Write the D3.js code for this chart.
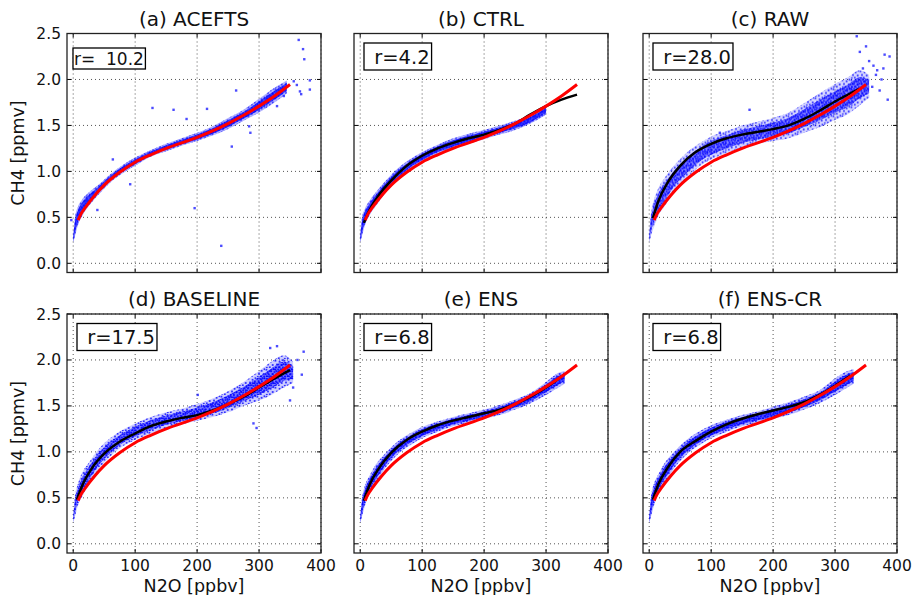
<!DOCTYPE html>
<html>
<head>
<meta charset="utf-8">
<script src="https://cdn.jsdelivr.net/npm/d3@7"></script>
<style>
  html, body { margin: 0; padding: 0; background: #fff; }
  svg { display: block; }
  text { font-family: "DejaVu Sans", sans-serif; fill: #111; }
</style>
</head>
<body>
<svg id="chart" width="912" height="595"></svg>
<script>
// ---------------- DATA ----------------
const panelTitles = ["(a) ACEFTS", "(b) CTRL", "(c) RAW", "(d) BASELINE", "(e) ENS", "(f) ENS-CR"];
const rLabels = ["r=  10.2", " r=4.2", " r=28.0", " r=17.5", " r=6.8", " r=6.8"];

const xTicks = [0, 100, 200, 300, 400];
const yTicks = [0.0, 0.5, 1.0, 1.5, 2.0, 2.5];
const yTickLabels = ["0.0", "0.5", "1.0", "1.5", "2.0", "2.5"];
const xLabel = "N2O [ppbv]";
const yLabel = "CH4 [ppmv]";

// Reference (ACE-FTS) fit: red curve, same in every panel
const redX = [8, 12, 20, 35, 50, 75, 100, 125, 150, 175, 200, 225, 250, 275, 300, 325, 350];
const redY = [0.47, 0.53, 0.61, 0.74, 0.85, 0.99, 1.10, 1.18, 1.25, 1.31, 1.37, 1.44, 1.52, 1.61, 1.71, 1.82, 1.945];

// Model fits: black curves (none for ACEFTS)
const ctrlX = [6, 15, 30, 50, 75, 100, 125, 150, 175, 200, 225, 250, 275, 300, 325, 350];
const ctrlY = [0.44, 0.58, 0.74, 0.90, 1.06, 1.17, 1.25, 1.31, 1.36, 1.40, 1.45, 1.52, 1.62, 1.71, 1.78, 1.835];
const rawX  = [6, 15, 30, 50, 75, 100, 125, 150, 175, 200, 225, 250, 275, 300, 325, 340];
const rawY  = [0.49, 0.68, 0.88, 1.06, 1.21, 1.30, 1.36, 1.40, 1.43, 1.46, 1.50, 1.57, 1.66, 1.76, 1.85, 1.90];
const baseX = [6, 15, 30, 50, 75, 100, 125, 150, 175, 200, 225, 250, 275, 300, 325, 350];
const baseY = [0.48, 0.64, 0.82, 0.98, 1.11, 1.20, 1.28, 1.33, 1.37, 1.40, 1.45, 1.52, 1.60, 1.70, 1.80, 1.89];
const ensX  = [6, 15, 30, 50, 75, 100, 125, 150, 175, 200, 225, 250, 275, 300, 325];
const ensY  = [0.47, 0.64, 0.82, 0.99, 1.13, 1.22, 1.29, 1.34, 1.38, 1.42, 1.46, 1.52, 1.60, 1.70, 1.82];
const enscrX = [6, 15, 30, 50, 75, 100, 125, 150, 175, 200, 225, 250, 275, 300, 325];
const enscrY = [0.48, 0.65, 0.83, 1.00, 1.12, 1.22, 1.30, 1.36, 1.41, 1.45, 1.49, 1.54, 1.62, 1.72, 1.83];

// Scatter cloud envelopes (blue points)
const aCloudX  = [0, 3, 8, 15, 25, 40, 60, 80, 100, 125, 150, 175, 200, 225, 250, 275, 300, 325, 345];
const aCloudLo = [0.22, 0.30, 0.42, 0.52, 0.62, 0.74, 0.88, 0.98, 1.06, 1.16, 1.22, 1.28, 1.33, 1.39, 1.46, 1.55, 1.64, 1.75, 1.85];
const aCloudHi = [0.30, 0.50, 0.62, 0.70, 0.77, 0.85, 0.97, 1.07, 1.15, 1.23, 1.30, 1.36, 1.42, 1.49, 1.58, 1.67, 1.79, 1.91, 1.99];

const bCloudX  = [0, 3, 8, 15, 25, 40, 60, 80, 100, 125, 150, 175, 200, 225, 250, 275, 300];
const bCloudLo = [0.22, 0.30, 0.42, 0.52, 0.62, 0.76, 0.90, 1.02, 1.10, 1.19, 1.25, 1.30, 1.35, 1.40, 1.45, 1.52, 1.62];
const bCloudHi = [0.30, 0.50, 0.60, 0.68, 0.77, 0.89, 1.03, 1.13, 1.21, 1.29, 1.36, 1.41, 1.45, 1.50, 1.55, 1.61, 1.71];

const cCloudX  = [0, 3, 8, 15, 25, 40, 60, 80, 100, 125, 150, 175, 200, 225, 250, 275, 300, 320, 340, 355];
const cCloudLo = [0.22, 0.30, 0.40, 0.52, 0.62, 0.78, 0.92, 1.05, 1.13, 1.20, 1.26, 1.30, 1.33, 1.36, 1.42, 1.48, 1.56, 1.62, 1.72, 1.80];
const cCloudHi = [0.32, 0.55, 0.70, 0.82, 0.93, 1.06, 1.20, 1.30, 1.38, 1.44, 1.50, 1.54, 1.58, 1.64, 1.74, 1.85, 1.95, 2.02, 2.10, 2.05];

const dCloudX  = [0, 3, 8, 15, 25, 40, 60, 80, 100, 125, 150, 175, 200, 225, 250, 275, 300, 320, 340, 355];
const dCloudLo = [0.22, 0.30, 0.42, 0.52, 0.64, 0.80, 0.95, 1.06, 1.13, 1.20, 1.26, 1.30, 1.34, 1.38, 1.43, 1.50, 1.56, 1.62, 1.70, 1.75];
const dCloudHi = [0.32, 0.52, 0.66, 0.78, 0.88, 1.02, 1.15, 1.24, 1.31, 1.38, 1.43, 1.47, 1.52, 1.58, 1.66, 1.76, 1.88, 1.98, 2.05, 1.98];

const eCloudX  = [0, 3, 8, 15, 25, 40, 60, 80, 100, 125, 150, 175, 200, 225, 250, 275, 300, 320, 330];
const eCloudLo = [0.22, 0.30, 0.42, 0.55, 0.66, 0.82, 0.97, 1.07, 1.15, 1.22, 1.28, 1.32, 1.36, 1.40, 1.46, 1.53, 1.62, 1.70, 1.74];
const eCloudHi = [0.30, 0.50, 0.64, 0.74, 0.86, 0.98, 1.11, 1.20, 1.27, 1.33, 1.38, 1.42, 1.46, 1.51, 1.57, 1.64, 1.76, 1.86, 1.88];

const fCloudX  = [0, 3, 8, 15, 25, 40, 60, 80, 100, 125, 150, 175, 200, 225, 250, 275, 300, 320, 330];
const fCloudLo = [0.22, 0.30, 0.42, 0.55, 0.66, 0.82, 0.97, 1.07, 1.15, 1.22, 1.28, 1.32, 1.36, 1.40, 1.46, 1.53, 1.62, 1.70, 1.74];
const fCloudHi = [0.30, 0.52, 0.66, 0.76, 0.88, 1.00, 1.13, 1.22, 1.29, 1.35, 1.40, 1.44, 1.49, 1.54, 1.60, 1.67, 1.80, 1.88, 1.90];

// Isolated scatter points outside the clouds
const aOutX = [-3, 39, 64, 92, 128, 162, 183, 196, 216, 239, 256, 263, 284, 286, 329, 340, 356, 361, 364, 366, 368, 371, 373, 382, 382];
const aOutY = [0.47, 0.58, 1.13, 0.86, 1.69, 1.67, 1.57, 0.60, 1.68, 0.19, 1.27, 1.88, 1.49, 1.42, 1.71, 1.82, 1.98, 1.94, 2.43, 1.87, 1.84, 2.33, 2.22, 1.99, 1.89];
const bOutX = [];
const bOutY = [];
const cOutX = [114, 162, 335, 340, 350, 355, 362, 368, 375, 380, 385, 388, 345, 360, 372, 366, 378];
const cOutY = [1.42, 1.67, 2.47, 2.30, 2.36, 2.20, 2.15, 2.10, 2.00, 2.27, 1.78, 2.25, 2.12, 1.92, 1.88, 2.05, 2.12];
const dOutX = [201, 291, 296, 318, 329, 350, 355, 362, 369, 372];
const dOutY = [1.62, 1.31, 1.26, 2.13, 2.15, 1.56, 1.70, 2.00, 1.84, 2.09];
const eOutX = [];
const eOutY = [];
const fOutX = [];
const fOutY = [];

// ---------------- LAYOUT ----------------
const svg = d3.select("#chart");
const colLeft = [67, 354, 643];
const rowTop = [33.5, 314];
const pw = 254, ph = 239;

const x = d3.scaleLinear().domain([-10, 400]).range([0, pw]);
const y = d3.scaleLinear().domain([-0.1, 2.5]).range([ph, 0]);

const zip = (a, b) => a.map((v, i) => [v, b[i]]);
const panels = [
  { cloud: [aCloudX, aCloudLo, aCloudHi], out: [aOutX, aOutY], black: null, core: 0.62, outer: 0.3 },
  { cloud: [bCloudX, bCloudLo, bCloudHi], out: [bOutX, bOutY], black: [ctrlX, ctrlY], core: 0.62, outer: 0.3 },
  { cloud: [cCloudX, cCloudLo, cCloudHi], out: [cOutX, cOutY], black: [rawX, rawY], core: 0.38, outer: 0.17 },
  { cloud: [dCloudX, dCloudLo, dCloudHi], out: [dOutX, dOutY], black: [baseX, baseY], core: 0.42, outer: 0.2 },
  { cloud: [eCloudX, eCloudLo, eCloudHi], out: [eOutX, eOutY], black: [ensX, ensY], core: 0.58, outer: 0.28 },
  { cloud: [fCloudX, fCloudLo, fCloudHi], out: [fOutX, fOutY], black: [enscrX, enscrY], core: 0.58, outer: 0.28 }
];

// irregular dot textures to mimic scatter markers
const defs = svg.append("defs");
function makePattern(id, size, dots, op) {
  const p = defs.append("pattern").attr("id", id)
    .attr("patternUnits", "userSpaceOnUse").attr("width", size).attr("height", size);
  dots.forEach(d => p.append("rect").attr("x", d[0]).attr("y", d[1])
    .attr("width", 1.8).attr("height", 1.8).attr("fill", "#0000ff").attr("fill-opacity", op));
}
makePattern("dense", 7, [[0.3,0.4],[3.6,1.1],[1.7,3.2],[5.0,3.6],[2.8,5.3],[5.6,0.2],[0.2,5.6],[4.1,5.9]], 0.8);
makePattern("sparse", 9, [[0.5,0.8],[4.7,1.9],[2.1,4.6],[6.8,5.1],[3.9,7.4],[7.6,0.3],[0.9,7.9]], 0.75);

const lineGen = d3.line().x(d => x(d[0])).y(d => y(d[1])).curve(d3.curveMonotoneX);

panels.forEach((p, i) => {
  const col = i % 3, row = Math.floor(i / 3);
  const g = svg.append("g").attr("transform", `translate(${colLeft[col]},${rowTop[row]})`);
  const clipId = "clip" + i;
  defs.append("clipPath").attr("id", clipId).append("rect").attr("width", pw).attr("height", ph);

  // grid
  const grid = g.append("g").attr("stroke", "#000").attr("stroke-width", 0.8)
    .attr("stroke-dasharray", "1,3").attr("stroke-opacity", 0.85);
  xTicks.forEach(t => grid.append("line").attr("x1", x(t)).attr("x2", x(t)).attr("y1", 0).attr("y2", ph));
  yTicks.forEach(t => grid.append("line").attr("y1", y(t)).attr("y2", y(t)).attr("x1", 0).attr("x2", pw));

  const plot = g.append("g").attr("clip-path", `url(#${clipId})`);

  // scatter cloud
  const [cx, lo, hi] = p.cloud;
  const cloudData = cx.map((v, k) => ({ x: v, lo: lo[k], hi: hi[k] }));
  const area = d3.area().x(d => x(d.x)).y0(d => y(d.lo)).y1(d => y(d.hi)).curve(d3.curveMonotoneX);
  const core = d3.area().x(d => x(d.x))
    .y0(d => y(d.lo + 0.2 * (d.hi - d.lo))).y1(d => y(d.hi - 0.2 * (d.hi - d.lo)))
    .curve(d3.curveMonotoneX);
  plot.append("path").datum(cloudData).attr("d", area).attr("fill", "url(#sparse)");
  plot.append("path").datum(cloudData).attr("d", area).attr("fill", "#0000ff").attr("fill-opacity", p.outer);
  plot.append("path").datum(cloudData).attr("d", core).attr("fill", "url(#dense)");
  plot.append("path").datum(cloudData).attr("d", core).attr("fill", "#0000ff").attr("fill-opacity", p.core);

  // outlier points
  const outPts = zip(p.out[0], p.out[1]);
  plot.selectAll("rect.pt").data(outPts).enter().append("rect").attr("class", "pt")
    .attr("x", d => x(d[0]) - 1.2).attr("y", d => y(d[1]) - 1.2)
    .attr("width", 2.4).attr("height", 2.4).attr("fill", "#0000ff").attr("fill-opacity", 0.7);

  // black model fit
  if (p.black) {
    plot.append("path").datum(zip(p.black[0], p.black[1])).attr("d", lineGen)
      .attr("fill", "none").attr("stroke", "#000").attr("stroke-width", 2.5);
  }
  // red reference fit
  plot.append("path").datum(zip(redX, redY)).attr("d", lineGen)
    .attr("fill", "none").attr("stroke", "#ff0000").attr("stroke-width", 3);

  // inward ticks on all sides
  const tk = g.append("g").attr("stroke", "#000").attr("stroke-width", 1);
  xTicks.forEach(t => {
    tk.append("line").attr("x1", x(t)).attr("x2", x(t)).attr("y1", ph).attr("y2", ph - 4);
    tk.append("line").attr("x1", x(t)).attr("x2", x(t)).attr("y1", 0).attr("y2", 4);
  });
  yTicks.forEach(t => {
    tk.append("line").attr("y1", y(t)).attr("y2", y(t)).attr("x1", 0).attr("x2", 4);
    tk.append("line").attr("y1", y(t)).attr("y2", y(t)).attr("x1", pw).attr("x2", pw - 4);
  });

  // frame
  g.append("rect").attr("width", pw).attr("height", ph).attr("fill", "none")
    .attr("stroke", "#222").attr("stroke-width", 1.3);

  // tick labels
  if (row === 1) {
    g.append("g").selectAll("text").data(xTicks).enter().append("text")
      .attr("x", d => x(d)).attr("y", ph + 17.5).attr("text-anchor", "middle")
      .attr("font-size", 15.5).text(d => d);
  }
  if (col === 0) {
    g.append("g").selectAll("text").data(yTicks).enter().append("text")
      .attr("x", -6).attr("y", d => y(d) + 5.5).attr("text-anchor", "end")
      .attr("font-size", 15.5).text((d, k) => yTickLabels[k]);
    g.append("text").attr("transform", `translate(-43,${ph / 2}) rotate(-90)`)
      .attr("text-anchor", "middle").attr("font-size", 17.5).text(yLabel);
  }
  if (row === 1) {
    g.append("text").attr("x", pw / 2).attr("y", ph + 39).attr("text-anchor", "middle")
      .attr("font-size", 17.5).text(xLabel);
  }

  // title
  g.append("text").attr("x", pw / 2).attr("y", -8).attr("text-anchor", "middle")
    .attr("font-size", 20).text(panelTitles[i]);

  // r label box
  const small = i === 0;
  const fs = small ? 17 : 19.5;
  const bx = small ? 6 : 10;
  const by = small ? 14.5 : 9.5;
  const bh = small ? 21 : 27;
  const lab = g.append("g");
  const box = lab.append("rect");
  const t = lab.append("text").attr("font-size", fs).attr("xml:space", "preserve")
    .style("white-space", "pre").attr("x", 0).attr("y", 0).text(rLabels[i]);
  const tw = t.node().getComputedTextLength();
  const padL = small ? 1 : 4, padR = small ? 1.5 : 2;
  t.attr("x", bx + padL).attr("y", by + bh / 2 + fs * 0.36);
  box.attr("x", bx).attr("y", by).attr("width", tw + padL + padR).attr("height", bh)
    .attr("fill", "#fff").attr("stroke", "#000").attr("stroke-width", 1.3);
});
</script>
</body>
</html>
